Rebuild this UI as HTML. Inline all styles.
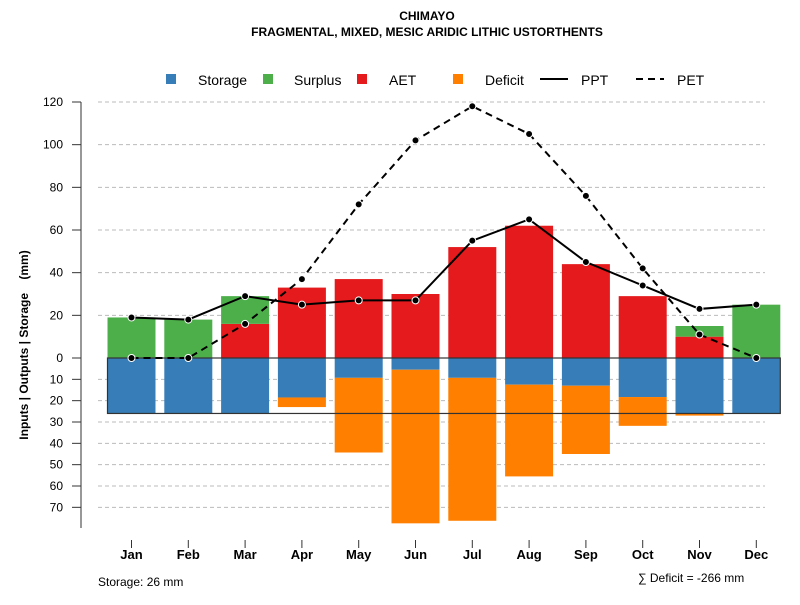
<!DOCTYPE html>
<html><head><meta charset="utf-8"><style>
body{margin:0;background:#fff}
svg{font-family:"Liberation Sans",sans-serif}
</style></head><body>
<svg id="c" width="800" height="600" xmlns="http://www.w3.org/2000/svg">
<text x="427" y="20" text-anchor="middle" font-size="12" font-weight="bold">CHIMAYO</text>
<text x="427" y="36" text-anchor="middle" font-size="12" font-weight="bold">FRAGMENTAL, MIXED, MESIC ARIDIC LITHIC USTORTHENTS</text>
<g>
<rect x="166" y="74" width="10" height="10" fill="#377eb8"/>
<text x="198" y="85" font-size="14">Storage</text>
<rect x="263" y="74" width="10" height="10" fill="#4daf4a"/>
<text x="294" y="85" font-size="14">Surplus</text>
<rect x="357" y="74" width="10" height="10" fill="#e41a1c"/>
<text x="389" y="85" font-size="14">AET</text>
<rect x="453" y="74" width="10" height="10" fill="#ff7f00"/>
<text x="485" y="85" font-size="14">Deficit</text>
<line x1="540" y1="79" x2="568" y2="79" stroke="#000" stroke-width="2"/>
<text x="581" y="85" font-size="14">PPT</text>
<line x1="636" y1="79" x2="664" y2="79" stroke="#000" stroke-width="2" stroke-dasharray="7,5"/>
<text x="677" y="85" font-size="14">PET</text>
</g>
<text transform="translate(28,345) rotate(-90)" text-anchor="middle" font-size="12" font-weight="bold" style="white-space:pre">Inputs | Outputs | Storage    (mm)</text>
<text x="98" y="586" font-size="12">Storage: 26 mm</text>
<text x="638" y="582" font-size="12">∑ Deficit = -266 mm</text>
<g id="plot"></g>
</svg>
<script>
const months=["Jan","Feb","Mar","Apr","May","Jun","Jul","Aug","Sep","Oct","Nov","Dec"];
const ppt=[19,18,29,25,27,27,55,65,45,34,23,25];
const pet=[0,0,16,37,72,102,118,105,76,42,11,0];
const aet=[0,0,16,33,37,30,52,62,44,29,10,0];
const surplus=[19,18,13,0,0,0,0,0,0,0,5,25];
const storage=[26,26,26,18.5,9.3,5.5,9.3,12.5,13,18.3,26,26];
const deficit=[0,0,0,4.5,35,72,67,43,32,13.5,1,0];
const upTicks=[0,20,40,60,80,100,120];
const downTicks=[10,20,30,40,50,60,70];
const NS="http://www.w3.org/2000/svg";
const g=document.getElementById('plot');
const y=v=>358-v*2.1333;
const x=i=>131.5+i*56.8;
const bw=48;
function el(t,a){const e=document.createElementNS(NS,t);for(const k in a)e.setAttribute(k,a[k]);g.appendChild(e);return e;}
let e=el('line',{x1:81,y1:y(120),x2:81,y2:528,stroke:'#777','stroke-width':1.5});


upTicks.forEach(t=>{
 if(t>0){let l=el('line',{x1:98,y1:y(t),x2:765,y2:y(t),stroke:'#bbb','stroke-dasharray':'4,3'});
 
 }
 let k=el('line',{x1:72,y1:y(t),x2:81,y2:y(t),stroke:'#333'});
 
 
 let s=el('text',{x:63,y:y(t)+4,'text-anchor':'end','font-size':12});s.textContent=t;
 
 
});
downTicks.forEach(t=>{
 let l=el('line',{x1:98,y1:y(-t),x2:765,y2:y(-t),stroke:'#bbb','stroke-dasharray':'4,3'});
 
 
 let k=el('line',{x1:72,y1:y(-t),x2:81,y2:y(-t),stroke:'#333'});
 
 
 let s=el('text',{x:63,y:y(-t)+4,'text-anchor':'end','font-size':12});s.textContent=t;
 
 
});
months.forEach((m,i)=>{
 const x0=x(i)-bw/2;
 let b=el('rect',{x:x0,y:y(0),width:bw,height:storage[i]*2.1333,fill:'#377eb8'});
 
 
 if(deficit[i]>0){let d=el('rect',{x:x0,y:y(-storage[i]),width:bw,height:deficit[i]*2.1333,fill:'#ff7f00'});
 
 }
 if(aet[i]>0){let a=el('rect',{x:x0,y:y(aet[i]),width:bw,height:aet[i]*2.1333,fill:'#e41a1c'});
 
 }
 if(surplus[i]>0){let s=el('rect',{x:x0,y:y(aet[i]+surplus[i]),width:bw,height:surplus[i]*2.1333,fill:'#4daf4a'});
 
 }
 let k=el('line',{x1:x(i),y1:540,x2:x(i),y2:548,stroke:'#333'});
 
 
 let t=el('text',{x:x(i),y:559,'text-anchor':'middle','font-size':13,'font-weight':'bold'});t.textContent=m;
 
 
});
let z=el('rect',{x:x(0)-bw/2,y:y(0),width:x(11)+bw/2-(x(0)-bw/2),height:26*2.1333,fill:'none',stroke:'#333','stroke-width':1.2});


function line(arr,name,dash){
 let p=el('polyline',{points:arr.map((v,i)=>x(i)+','+y(v)).join(' '),fill:'none',stroke:'#000','stroke-width':2});
 if(dash)p.setAttribute('stroke-dasharray','7,5');
 
 
 arr.forEach((v,i)=>{let c=el('circle',{cx:x(i),cy:y(v),r:3.5,fill:'#000',stroke:'#fff','stroke-width':1});
 
 });
}
line(pet,'pet',true);
line(ppt,'ppt',false);
</script>
</body></html>
